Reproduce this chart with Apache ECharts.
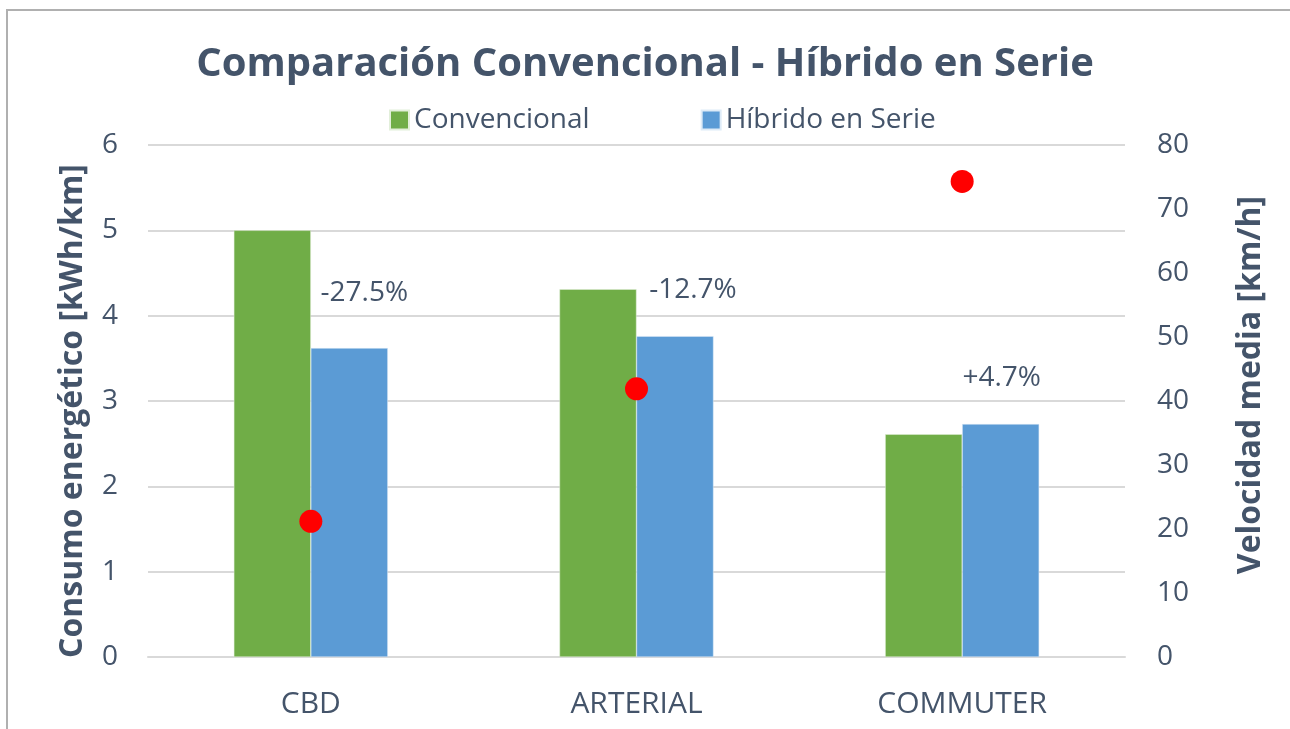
<!DOCTYPE html>
<html>
<head>
<meta charset="utf-8">
<script src="https://cdn.jsdelivr.net/npm/echarts@6/dist/echarts.min.js"></script>
<style>
  html, body { margin: 0; padding: 0; background: #fff; }
  #chart { width: 1290px; height: 729px; }
</style>
</head>
<body>
<div id="chart"></div>
<script>
  // datos
  const categorias = ['CBD', 'ARTERIAL', 'COMMUTER']
  const convencional = [5.0, 4.31, 2.61]
  const hibrido = [3.62, 3.76, 2.73]
  const velocidad = [21.2, 41.9, 74.3]
  const variacion = ['-27.5%', '-12.7%', '+4.7%']

  const textColor = '#44546a'
  const fontFam = '"Open Sans", "Noto Sans", sans-serif'

  // desplazamiento de las etiquetas de variacion (colocadas a mano como en Excel)
  const labelOffsets = [[15, -36], [18, -27], [1, -27]]

  const chart = echarts.init(document.getElementById('chart'))

  const option = {
    backgroundColor: '#fff',
    animation: false,
    textStyle: { fontFamily: fontFam },
    title: {
      text: 'Comparación Convencional - Híbrido en Serie',
      left: 'center',
      top: 40,
      textStyle: { color: textColor, fontSize: 40, fontWeight: 'bold', fontFamily: fontFam }
    },
    legend: {
      data: ['Convencional', 'Híbrido en Serie'],
      top: 101,
      left: 384,
      itemWidth: 19,
      itemHeight: 19,
      itemGap: 111,
      icon: 'rect',
      textStyle: { color: textColor, fontSize: 28, fontFamily: fontFam }
    },
    graphic: [{
      type: 'rect',
      shape: { x: 7, y: 10, width: 1400, height: 800 },
      style: { fill: 'none', stroke: '#b0b0b0', lineWidth: 2 },
      silent: true
    }],
    grid: { left: 148, right: 165, top: 145, bottom: 72 },
    xAxis: {
      type: 'category',
      data: categorias,
      axisTick: { show: false },
      axisLine: { lineStyle: { color: '#d9d9d9', width: 2 } },
      axisLabel: { color: textColor, fontSize: 30, margin: 32, fontFamily: fontFam }
    },
    yAxis: [
      {
        type: 'value',
        min: 0, max: 6, interval: 1,
        name: 'Consumo energético [kWh/km]',
        nameLocation: 'middle',
        nameGap: 59,
        nameTextStyle: {
          color: textColor, fontSize: 32, fontWeight: 'bold', fontFamily: fontFam,
          padding: [0, 20, 0, 0]
        },
        axisLabel: { color: textColor, fontSize: 28, margin: 30, fontFamily: fontFam },
        splitLine: { lineStyle: { color: '#d9d9d9', width: 2 } },
        axisLine: { show: false },
        axisTick: { show: false }
      },
      {
        type: 'value',
        min: 0, max: 80, interval: 10,
        name: 'Velocidad media [km/h]',
        nameLocation: 'middle',
        nameGap: 110,
        nameRotate: 90,
        nameTextStyle: {
          color: textColor, fontSize: 32, fontWeight: 'bold', fontFamily: fontFam,
          padding: [0, 0, 0, 32]
        },
        axisLabel: { color: textColor, fontSize: 28, margin: 32, fontFamily: fontFam },
        splitLine: { show: false },
        axisLine: { show: false },
        axisTick: { show: false }
      }
    ],
    series: [
      {
        name: 'Convencional',
        type: 'bar',
        data: convencional,
        barWidth: 77,
        barGap: '0%',
        itemStyle: { color: '#70ad47', borderColor: '#e2efda', borderWidth: 0.5 }
      },
      {
        name: 'Híbrido en Serie',
        type: 'bar',
        data: hibrido.map((v, i) => ({
          value: v,
          label: { offset: labelOffsets[i] }
        })),
        barWidth: 77,
        itemStyle: { color: '#5b9bd5', borderColor: '#deebf7', borderWidth: 0.5 },
        label: {
          show: true,
          position: 'top',
          color: textColor,
          fontSize: 28,
          fontFamily: fontFam,
          formatter: p => variacion[p.dataIndex]
        }
      },
      {
        name: 'Velocidad media',
        type: 'scatter',
        yAxisIndex: 1,
        data: velocidad,
        symbol: 'circle',
        symbolSize: 23,
        itemStyle: { color: '#ff0000', opacity: 1 },
        z: 5
      }
    ]
  }

  chart.setOption(option)
</script>
</body>
</html>
